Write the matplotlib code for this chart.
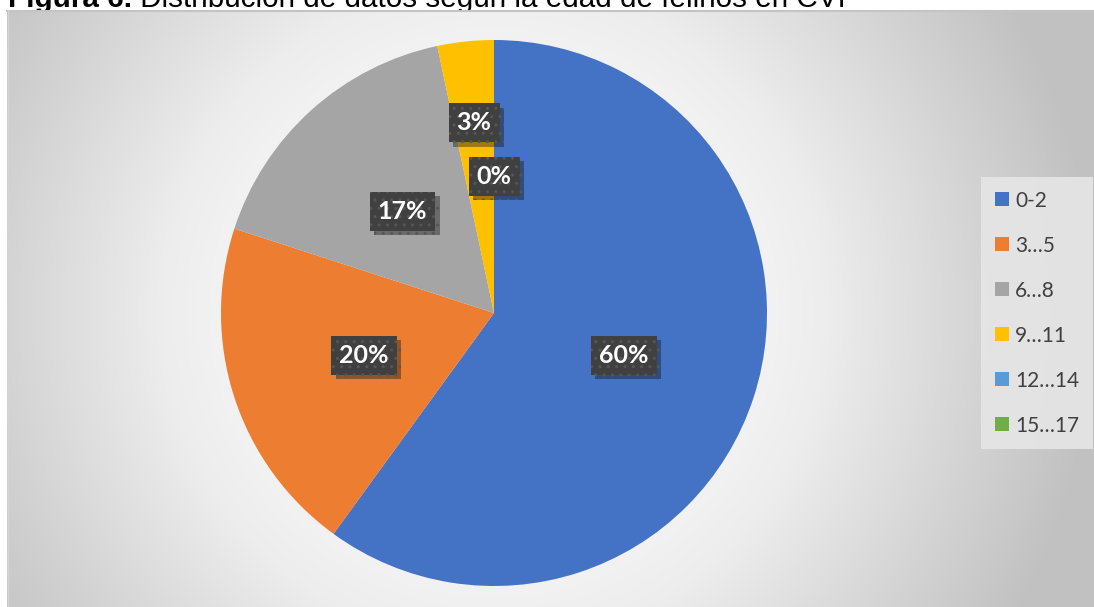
import numpy as np
import matplotlib
matplotlib.use('Agg')
import matplotlib.pyplot as plt
import matplotlib.patheffects as pe

# ── Data ───────────────────────────────────────────────
AGE_GROUPS = ['0-2', '3…5', '6…8', '9…11', '12…14', '15…17']
COUNTS = [18, 6, 5, 1, 0, 0]
COLORS = ['#4472C4', '#ED7D31', '#A5A5A5', '#FFC000', '#5B9BD5', '#70AD47']
TITLE_BOLD = 'Figura 6.'
TITLE_REST = ' Distribución de datos según la edad de felinos en CVI'

W, H = 1094, 607
CX, CY, R = 494, 313, 273   # pie centre / radius in pixels

fig = plt.figure(figsize=(W / 100, H / 100), dpi=100)

# ── Title (cropped at top, as in the source document) ──
t1 = fig.text(8 / W, 1 - 7 / H, TITLE_BOLD, fontsize=21.3, fontweight='bold',
              family='Liberation Sans', va='baseline', zorder=-1)
fig.canvas.draw()
bb = t1.get_window_extent()
fig.text(bb.x1 / W, 1 - 7 / H, TITLE_REST, fontsize=21.3,
         family='Liberation Sans', va='baseline', zorder=-1)

# ── Chart area background: radial gradient ─────────────
ax_bg = fig.add_axes([7 / W, 0, 1 - 7 / W, 1 - 10 / H])
ax_bg.set_zorder(0)
xs = np.arange(7, W) + 0.5
ys = np.arange(10, H) + 0.5
gx, gy = np.meshgrid(xs, ys)
dist = np.hypot(gx - CX, gy - CY)
shade = np.interp(dist, [270, 330, 600], [0.95, 0.93, 0.76])
ax_bg.imshow(np.dstack([shade] * 3), aspect='auto', interpolation='bilinear')
ax_bg.axis('off')
fig.add_artist(plt.Line2D([7 / W, 1], [1 - 10.5 / H] * 2, color='#c4c4c4', lw=1.5))
fig.add_artist(plt.Line2D([7.5 / W] * 2, [0, 1 - 10 / H], color='#d4d4d4', lw=1))

# ── Pie ─────────────────────────────────────────────────
half = 285
ax = fig.add_axes([(CX - half) / W, (H - CY - half) / H, 2 * half / W, 2 * half / H])
ax.set_zorder(1)
total = sum(COUNTS)
wedges, _ = ax.pie(COUNTS, colors=COLORS, startangle=90, counterclock=False,
                   radius=1.0, wedgeprops=dict(linewidth=0))
lim = half / R
ax.set_xlim(-lim, lim)
ax.set_ylim(-lim, lim)
ax.set_aspect('equal')
ax.axis('off')

# ── Data labels ────────────────────────────────────────
seen_zero = False
for w, c in zip(wedges, COUNTS):
    if c == 0:
        if seen_zero:
            continue
        seen_zero = True
    pct = 100 * c / total
    mid = np.deg2rad((w.theta1 + w.theta2) / 2)
    r = 0.7 if 0 < pct < 5 else 0.5
    t = ax.text(r * np.cos(mid), r * np.sin(mid), f'{pct:.0f}%',
                ha='center', va='center', color='white', fontsize=18,
                fontweight='bold', family='Lato', zorder=5,
                bbox=dict(boxstyle='square,pad=0.32', fc='#404040',
                          ec='#565656', lw=0, hatch='..'))
    t.get_bbox_patch().set_path_effects(
        [pe.SimplePatchShadow(offset=(3, -3), alpha=0.4), pe.Normal()])

# ── Legend ─────────────────────────────────────────────
leg = fig.legend(wedges, AGE_GROUPS, loc='upper left',
                 bbox_to_anchor=(981 / W, 1 - 177 / H),
                 prop=dict(family='Lato', size=15),
                 frameon=True, fancybox=False, borderpad=0.65,
                 borderaxespad=0,
                 handlelength=0.68, handleheight=0.68, handletextpad=0.3,
                 labelspacing=1.2, labelcolor='#404040')
leg.get_frame().set_facecolor('#e6e6e6')
leg.get_frame().set_edgecolor('none')
leg.get_frame().set_alpha(0.9)
leg.set_zorder(3)

fig.savefig('out.png', dpi=100)
